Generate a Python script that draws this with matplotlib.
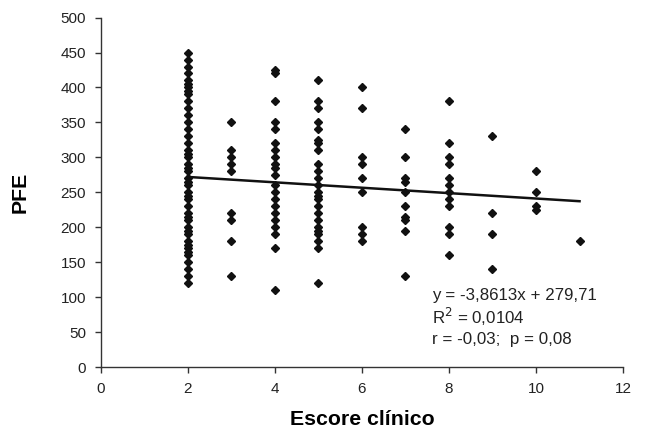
import matplotlib
matplotlib.use('Agg')
import matplotlib.pyplot as plt
import numpy as np

plt.rcParams['font.family'] = ['Liberation Sans', 'DejaVu Sans']

# PFE readings per clinical score
escore = [2, 3, 4, 5, 6, 7, 8, 9, 10, 11]
pfe = {
    2: [450, 440, 430, 420, 410, 405, 400, 395, 390, 380, 370, 360, 350, 340,
        330, 320, 310, 305, 300, 290, 285, 280, 270, 265, 260, 250, 245, 240,
        230, 220, 215, 210, 200, 195, 190, 180, 175, 170, 165, 160, 150, 140,
        130, 120],
    3: [350, 310, 300, 290, 280, 220, 210, 180, 130],
    4: [425, 420, 380, 350, 340, 320, 310, 300, 290, 285, 275, 260, 250, 240,
        230, 220, 210, 200, 190, 170, 110],
    5: [410, 380, 370, 350, 340, 325, 320, 310, 290, 280, 270, 260, 250, 245,
        240, 230, 220, 210, 200, 195, 190, 180, 170, 120],
    6: [400, 370, 300, 290, 270, 250, 200, 190, 180],
    7: [340, 300, 270, 265, 250, 230, 215, 210, 195, 130],
    8: [380, 320, 300, 290, 270, 260, 250, 240, 230, 200, 190, 160],
    9: [330, 220, 190, 140],
    10: [280, 250, 230, 225],
    11: [180],
}
slope = -3.8613
intercept = 279.71
fit_x = [2, 11]
stats_lines = ['y = -3,8613x + 279,71', 'R$^2$ = 0,0104', 'r = -0,03;  p = 0,08']

xs = []
ys = []
for k in escore:
    xs += [k] * len(pfe[k])
    ys += pfe[k]

fig = plt.figure(figsize=(6.45, 4.33), dpi=100)
ax = fig.add_axes([0.156, 0.1524, 0.81, 0.807])

ax.plot(xs, ys, linestyle='none', marker='D', markersize=3.8,
        color='#111111')
fx = np.array(fit_x)
ax.plot(fx, slope * fx + intercept, color='#111111', linewidth=1.8)

ax.set_xlim(0, 12)
ax.set_ylim(0, 500)
ax.set_xticks(range(0, 13, 2))
ax.set_yticks(range(0, 501, 50))
for side in ['top', 'right']:
    ax.spines[side].set_visible(False)
for side in ['left', 'bottom']:
    ax.spines[side].set_color('#333333')
    ax.spines[side].set_linewidth(1.0)
ax.tick_params(axis='both', direction='out', length=4, width=1.0,
               color='#333333', labelsize=11, labelcolor='#222222', pad=6.5)

ax.set_xlabel('Escore clínico', fontsize=15.3, fontweight='bold', labelpad=10.5)
ax.set_ylabel('PFE', fontsize=15.3, fontweight='bold', labelpad=22)

for i, s in enumerate(stats_lines):
    ax.text(7.62, 103 - i * 31.5, s, fontsize=12.2, color='#222222',
            va='center', ha='left')

fig.savefig('out.png', dpi=100)
